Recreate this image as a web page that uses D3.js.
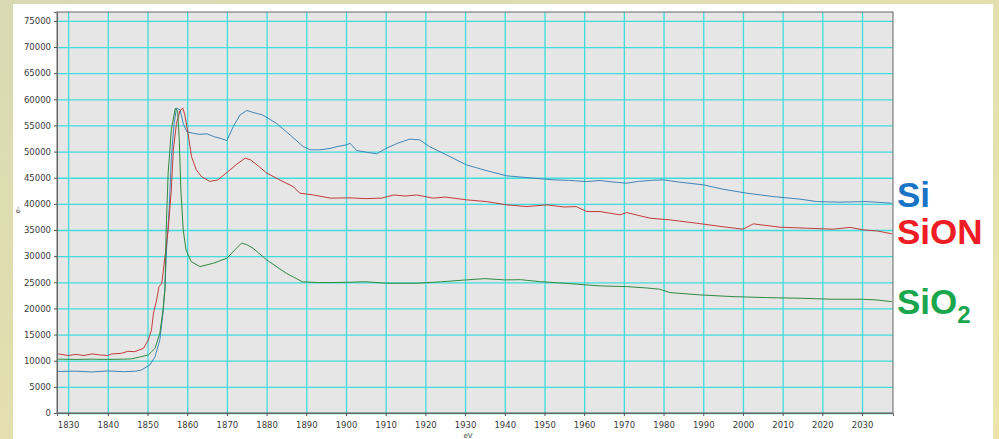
<!DOCTYPE html>
<html>
<head>
<meta charset="utf-8">
<script src="https://cdn.jsdelivr.net/npm/d3@7"></script>
<style>
  body { margin: 0; background: #fff; }
  svg { display: block; }
</style>
</head>
<body>
<div id="chart"></div>
<script>
// tick labels
var xTicks = [1830, 1840, 1850, 1860, 1870, 1880, 1890, 1900, 1910, 1920, 1930,
              1940, 1950, 1960, 1970, 1980, 1990, 2000, 2010, 2020, 2030];
var yTicks = [0, 5000, 10000, 15000, 20000, 25000, 30000, 35000, 40000,
              45000, 50000, 55000, 60000, 65000, 70000, 75000];

// Si (blue)
var siEV = [1827.5, 1832, 1836, 1840, 1844, 1847, 1848.5, 1850.6, 1851.9, 1853.1, 1853.9, 1854.4,
  1854.8, 1855.5, 1856, 1856.7, 1857.3, 1858.2, 1859, 1859.9, 1861.5, 1863, 1865, 1866.6, 1868.5,
  1870, 1871.6, 1873.3, 1875, 1877, 1879, 1882.5, 1885.9, 1889.2, 1891, 1893.4, 1896, 1898, 1900.2,
  1901, 1902.7, 1905, 1907.7, 1910.2, 1913, 1916, 1918.6, 1921, 1925.3, 1930.3, 1935.3, 1940.5,
  1947.2, 1952.2, 1956, 1960.6, 1964, 1967, 1970.7, 1973.7, 1977, 1980, 1984.1, 1990, 1995,
  2000.9, 2007.6, 2014.4, 2018.6, 2024.4, 2031, 2034, 2037.5];
var siCounts = [7950, 8000, 7850, 8050, 7900, 8000, 8230, 9190, 10780, 13970, 19080, 24170,
  31200, 39500, 49000, 55400, 58300, 58000, 55400, 53800, 53500, 53300, 53400, 52900, 52500,
  52100, 54800, 57000, 57860, 57400, 57000, 55400, 53200, 50970, 50340, 50340, 50600, 51000, 51300,
  51600, 50200, 49900, 49570, 50660, 51600, 52380, 52250, 50970, 49380, 47470, 46380, 45360,
  44920, 44600, 44500, 44270, 44470, 44200, 43960, 44300, 44500, 44600, 44150, 43640, 42800,
  42050, 41400, 40900, 40440, 40320, 40440, 40300, 40130];

// SiON (red)
var sionEV = [1827.5, 1830, 1832, 1834, 1836, 1838, 1840, 1841, 1843.5, 1845, 1846.8, 1849,
  1850.2, 1851, 1851.5, 1852.3, 1852.9, 1853.6, 1854.4, 1855.2, 1856, 1856.5, 1857.3, 1858.2,
  1858.9, 1859.4, 1860.2, 1861.1, 1862.3, 1863.6, 1865.7, 1867.8, 1869, 1870.8, 1872.5, 1874.6,
  1876, 1878, 1880, 1883, 1886.7, 1888.4, 1891.8, 1896, 1901, 1905, 1909, 1912, 1915, 1917.8,
  1922, 1925, 1930.4, 1935.4, 1940.5, 1945.6, 1950.6, 1955, 1958, 1960.6, 1964, 1969, 1970.7,
  1976.6, 1981.6, 1988.3, 1995.8, 2000, 2002.6, 2009.3, 2016, 2022.7, 2027, 2030.3, 2034, 2037.5];
var sionCounts = [11300, 11000, 11200, 11000, 11300, 11100, 11000, 11300, 11420, 11800, 11730, 12380,
  13970, 15890, 19080, 21630, 24170, 24800, 29900, 35000, 42700, 50300, 55400, 57860,
  58300, 57040, 53500, 49000, 46500, 45200, 44300, 44600, 45400, 46500, 47600, 48750,
  48400, 47200, 45900, 44700, 43300, 42050, 41700, 41100, 41150, 41000, 41100, 41700, 41500, 41700,
  41100, 41300, 40770, 40440, 39810, 39490, 39810, 39400, 39490, 38530, 38530, 37900, 38340,
  37260, 36940, 36300, 35540, 35160, 36180, 35540, 35350, 35160, 35500, 35030, 34800, 34260];

// SiO2 (green)
var sio2EV = [1827.5, 1832, 1836, 1840, 1844, 1846, 1848, 1850.2, 1851.9, 1853.1, 1853.9, 1854.4,
  1854.7, 1855.2, 1856, 1857, 1857.6, 1858, 1858.4, 1859, 1859.7, 1861, 1863.2, 1866.6, 1870,
  1872, 1873.7, 1875, 1876.6, 1880, 1885, 1889, 1893.4, 1896, 1900, 1905, 1910.2, 1917.8, 1924,
  1930.3, 1935, 1940, 1944, 1948.8, 1955, 1960.6, 1964, 1970.7, 1976, 1979, 1981.6, 1989.2,
  1997.5, 2006, 2014.4, 2022.7, 2030, 2034, 2037.5];
var sio2Counts = [10300, 10250, 10300, 10250, 10300, 10350, 10700, 11100, 12380, 15250, 19710, 23540,
  35000, 45900, 54200, 58300, 57700, 52300, 42700, 35000, 31200, 28960, 28000, 28650, 29600,
  31200, 32500, 32200, 31500, 29300, 26700, 25100, 24940, 24950, 25000, 25100, 24820, 24820, 25100,
  25460, 25700, 25460, 25500, 25130, 24820, 24500, 24310, 24180, 23900, 23680, 23030, 22590,
  22260, 22070, 21950, 21760, 21760, 21600, 21300];

function SpectrumChart(element_id) {
  var W = 999, H = 439,
      plot = {left: 57, right: 893, top: 12, bottom: 413},
      x = d3.scaleLinear().domain([1827.2, 2037.8]).range([plot.left, plot.right]),
      y = d3.scaleLinear().domain([0, 76700]).range([plot.bottom, plot.top]),
      svg, focus;

  svg = d3.select(element_id).append("svg")
      .attr("width", W)
      .attr("height", H);

  var grad = svg.append("defs").append("linearGradient")
      .attr("id", "bg").attr("x1", 0).attr("y1", 0).attr("x2", 1).attr("y2", 1);
  grad.append("stop").attr("offset", "0%").attr("stop-color", "#d9d9b2");
  grad.append("stop").attr("offset", "100%").attr("stop-color", "#ede5ad");

  svg.append("rect").attr("width", W).attr("height", H).attr("fill", "url(#bg)");
  svg.append("rect")
      .attr("x", 13).attr("y", 4)
      .attr("width", 980).attr("height", H - 4)
      .attr("fill", "#ffffff");

  focus = svg.append("g").attr("class", "focus");

  focus.append("rect")
      .attr("x", plot.left).attr("y", plot.top)
      .attr("width", plot.right - plot.left).attr("height", plot.bottom - plot.top)
      .attr("fill", "#e6e6e6");

  // grid
  focus.append("g")
      .attr("transform", "translate(0," + plot.bottom + ")")
      .call(d3.axisBottom(x).tickValues(xTicks).tickSize(-(plot.bottom - plot.top)).tickFormat(""))
      .call(function (g) { g.select(".domain").remove(); })
      .selectAll("line").attr("stroke", "#3fdcdc").attr("stroke-width", 1.3);
  focus.append("g")
      .attr("transform", "translate(" + plot.left + ",0)")
      .call(d3.axisLeft(y).tickValues(yTicks).tickSize(-(plot.right - plot.left)).tickFormat(""))
      .call(function (g) { g.select(".domain").remove(); })
      .selectAll("line").attr("stroke", "#3fdcdc").attr("stroke-width", 1.3);

  // curves
  var line = d3.line()
      .x(function (d) { return x(d[0]); })
      .y(function (d) { return y(d[1]); });

  var series = [
    {ev: siEV, counts: siCounts, color: "#3f86b8"},
    {ev: sionEV, counts: sionCounts, color: "#c23b3b"},
    {ev: sio2EV, counts: sio2Counts, color: "#2f8a40"}
  ];

  focus.selectAll(".curve")
      .data(series)
    .enter().append("path")
      .attr("class", "curve")
      .attr("fill", "none")
      .attr("stroke", function (d) { return d.color; })
      .attr("stroke-width", 1)
      .attr("d", function (d) { return line(d3.zip(d.ev, d.counts)); });

  // frame
  focus.append("rect")
      .attr("x", plot.left).attr("y", plot.top)
      .attr("width", plot.right - plot.left).attr("height", plot.bottom - plot.top)
      .attr("fill", "none").attr("stroke", "#666").attr("stroke-width", 1);

  // axes
  var xAxis = focus.append("g")
      .attr("transform", "translate(0," + plot.bottom + ")")
      .call(d3.axisBottom(x).tickValues(xTicks).tickSize(3).tickPadding(6).tickFormat(d3.format("d")));
  var yAxis = focus.append("g")
      .attr("transform", "translate(" + plot.left + ",0)")
      .call(d3.axisLeft(y).tickValues(yTicks).tickSize(3).tickPadding(3).tickFormat(d3.format("d")));

  [xAxis, yAxis].forEach(function (g) {
    g.select(".domain").attr("stroke", "#666");
    g.selectAll(".tick line").attr("stroke", "#555");
    g.selectAll(".tick text")
        .attr("fill", "#3a3a3a")
        .style("font-family", "DejaVu Sans")
        .style("font-size", "8.5px");
  });

  // axis titles
  svg.append("text")
      .attr("x", 468).attr("y", 438)
      .attr("text-anchor", "middle")
      .style("font-family", "DejaVu Sans").style("font-size", "7px")
      .attr("fill", "#444")
      .text("eV");
  svg.append("text")
      .attr("transform", "translate(20,210) rotate(-90)")
      .attr("text-anchor", "middle")
      .style("font-family", "DejaVu Sans").style("font-size", "7px")
      .attr("fill", "#444")
      .text("e-");

  // labels
  var lab = svg.append("g")
      .style("font-family", "Liberation Sans, Arial, sans-serif")
      .style("font-weight", "bold")
      .style("font-size", "35px");
  lab.append("text").attr("x", 897).attr("y", 207).attr("fill", "#1a74c6").text("Si");
  lab.append("text").attr("x", 897).attr("y", 244).attr("fill", "#ee1c24").text("SiON");
  var t = lab.append("text").attr("x", 897).attr("y", 314).attr("fill", "#1aa64c");
  t.append("tspan").text("SiO");
  t.append("tspan").attr("dy", 9).style("font-size", "24px").text("2");
}

SpectrumChart("#chart");
</script>
</body>
</html>
